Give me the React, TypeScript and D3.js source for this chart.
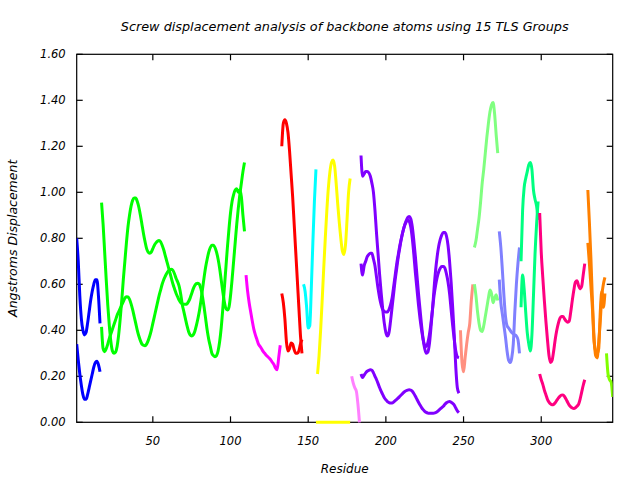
import React from "react";
import * as d3 from "d3";

const W = 640;
const H = 480;
const PLOT = { left: 76.7, right: 612.7, top: 54.3, bottom: 422.3 };

const titleText = "Screw displacement analysis of backbone atoms using 15 TLS Groups";
const xLabel = "Residue";
const yLabel = "Angstroms Displacement";
const xDomain = [1, 346];
const yDomain = [0, 1.6];
const xTicks = [50, 100, 150, 200, 250, 300];
const yTicks = [0, 0.2, 0.4, 0.6, 0.8, 1.0, 1.2, 1.4, 1.6];

// Group 1 (blue), residues 1-16
const blueStart = 1;
const blueA = [0.80, 0.70, 0.55, 0.45, 0.40, 0.38, 0.39, 0.43, 0.48, 0.53, 0.57, 0.60, 0.62, 0.62, 0.55, 0.43];
const blueB = [0.34, 0.27, 0.21, 0.16, 0.12, 0.10, 0.10, 0.12, 0.15, 0.18, 0.21, 0.24, 0.26, 0.265, 0.25, 0.22];

// Group 2 (green), residues 17-109
const greenStart = 17;
const greenA = [
  0.955, 0.86, 0.74, 0.62, 0.51, 0.42, 0.35, 0.31, 0.30, 0.305,
  0.33, 0.38, 0.45, 0.53, 0.62, 0.70, 0.78, 0.85, 0.90, 0.94,
  0.965, 0.975, 0.975, 0.96, 0.935, 0.90, 0.86, 0.82, 0.785, 0.755,
  0.74, 0.735, 0.74, 0.755, 0.77, 0.78, 0.787, 0.79, 0.785, 0.77,
  0.75, 0.725, 0.70, 0.675, 0.65, 0.625, 0.60, 0.58, 0.56, 0.545,
  0.53, 0.52, 0.515, 0.513, 0.513, 0.515, 0.525, 0.54, 0.56, 0.58,
  0.595, 0.603, 0.605, 0.60, 0.58, 0.545, 0.50, 0.45, 0.40, 0.36,
  0.33, 0.30, 0.29, 0.285, 0.29, 0.31, 0.35, 0.41, 0.49, 0.58,
  0.67, 0.76, 0.84, 0.91, 0.96, 0.99, 1.01, 1.015, 1.0, 1.01,
  0.98, 0.90, 0.83,
];
const greenB = [
  0.415, 0.32, 0.307, 0.32, 0.34, 0.365, 0.385, 0.405, 0.425, 0.445,
  0.465, 0.48, 0.495, 0.51, 0.525, 0.54, 0.546, 0.545, 0.535, 0.515,
  0.49, 0.46, 0.43, 0.40, 0.375, 0.355, 0.34, 0.335, 0.333, 0.34,
  0.355, 0.375, 0.40, 0.43, 0.46, 0.49, 0.52, 0.55, 0.575, 0.60,
  0.62, 0.635, 0.648, 0.658, 0.664, 0.665, 0.66, 0.645, 0.625, 0.61,
  0.59, 0.555, 0.51, 0.48, 0.45, 0.42, 0.395, 0.38, 0.375, 0.38,
  0.395, 0.42, 0.45, 0.485, 0.53, 0.58, 0.63, 0.675, 0.71, 0.74,
  0.76, 0.77, 0.77, 0.76, 0.74, 0.71, 0.67, 0.62, 0.57, 0.525,
  0.495, 0.488, 0.50, 0.55, 0.62, 0.70, 0.78, 0.86, 0.93, 0.99,
  1.04, 1.09, 1.13,
];

// Group 3 (magenta), residues 110-132
const magentaStart = 110;
const magentaA = [0.64, 0.57, 0.52, 0.48, 0.44, 0.405, 0.38, 0.36, 0.34, 0.33, 0.32, 0.308, 0.30, 0.292, 0.285, 0.278, 0.27, 0.26, 0.25, 0.235, 0.228, 0.28, 0.335];

// Group 4 (red), residues 133-146
const redStart = 133;
const redA = [1.20, 1.30, 1.315, 1.30, 1.26, 1.18, 1.08, 0.98, 0.86, 0.74, 0.62, 0.50, 0.38, 0.30];
const redB = [0.56, 0.52, 0.45, 0.35, 0.31, 0.32, 0.345, 0.34, 0.315, 0.30, 0.30, 0.31, 0.34, 0.36];

// Group 5 (cyan), residues 147-155
const cyanStart = 147;
const cyanA = [0.60, 0.57, 0.50, 0.41, 0.42, 0.58, 0.78, 0.96, 1.10];

// Group 6 (yellow), residues 155-177
const yellowStart = 156;
const yellowA = [0.21, 0.29, 0.40, 0.53, 0.67, 0.80, 0.92, 1.02, 1.09, 1.13, 1.14, 1.115, 1.04, 0.95, 0.87, 0.80, 0.745, 0.73, 0.77, 0.88, 1.00, 1.06];
const yellowZeroStart = 155;
const yellowB = [0, 0, 0, 0, 0, 0, 0, 0, 0, 0, 0, 0, 0, 0, 0, 0, 0, 0, 0, 0, 0, 0, 0];

// Group 7 (pink), residues 178-183
const pinkStart = 178;
const pinkA = [0.20, 0.17, 0.15, 0.135, 0.08, 0.0];

// Group 8 (purple), residues 184-247
const purpleStart = 184;
const purpleA = [
  1.16, 1.07, 1.08, 1.09, 1.09, 1.085, 1.07, 1.04, 1.00, 0.92,
  0.82, 0.73, 0.64, 0.56, 0.49, 0.43, 0.39, 0.375, 0.39, 0.44,
  0.50, 0.56, 0.62, 0.67, 0.72, 0.76, 0.80, 0.83, 0.855, 0.875,
  0.89, 0.895, 0.885, 0.85, 0.79, 0.72, 0.64, 0.56, 0.49, 0.42,
  0.36, 0.32, 0.30, 0.305, 0.34, 0.41, 0.49, 0.58, 0.66, 0.72,
  0.765, 0.795, 0.815, 0.825, 0.825, 0.81, 0.77, 0.70, 0.61, 0.50,
  0.38, 0.24, 0.15, 0.126,
];
const purpleB = [
  0.69, 0.64, 0.68, 0.70, 0.72, 0.73, 0.735, 0.735, 0.71, 0.68,
  0.63, 0.58, 0.54, 0.51, 0.49, 0.482, 0.48, 0.48, 0.49, 0.51,
  0.54, 0.59, 0.64, 0.69, 0.73, 0.77, 0.80, 0.83, 0.855, 0.87,
  0.88, 0.875, 0.85, 0.80, 0.73, 0.65, 0.58, 0.51, 0.45, 0.40,
  0.36, 0.335, 0.33, 0.345, 0.38, 0.43, 0.49, 0.55, 0.595, 0.63,
  0.655, 0.67, 0.677, 0.677, 0.67, 0.645, 0.61, 0.56, 0.49, 0.42,
  0.36, 0.31, 0.285, 0.28,
];
const purpleC = [
  0.21, 0.195, 0.205, 0.215, 0.222, 0.226, 0.228, 0.226, 0.215, 0.20,
  0.185, 0.168, 0.15, 0.134, 0.12, 0.107, 0.098, 0.09, 0.086, 0.084,
  0.084, 0.088, 0.094, 0.10, 0.106, 0.113, 0.12, 0.127, 0.133, 0.137,
  0.14, 0.141, 0.14, 0.135, 0.125, 0.113, 0.10, 0.087, 0.075, 0.064,
  0.055, 0.048, 0.043, 0.04, 0.039, 0.039, 0.039, 0.04, 0.042, 0.046,
  0.052, 0.058, 0.064, 0.07, 0.078, 0.085, 0.089, 0.09, 0.087, 0.082,
  0.075, 0.062, 0.05, 0.042,
];

// Group 9 (salmon), residues 248-256
const salmonStart = 248;
const salmonA = [0.40, 0.26, 0.22, 0.28, 0.34, 0.39, 0.43, 0.53, 0.60];

// Group 10 (light green), residues 257-272
const lightGreenStart = 257;
const lightGreenA = [0.76, 0.79, 0.84, 0.89, 0.96, 1.04, 1.10, 1.17, 1.24, 1.30, 1.35, 1.38, 1.39, 1.34, 1.25, 1.17];
const lightGreenB = [0.60, 0.55, 0.48, 0.43, 0.40, 0.395, 0.42, 0.46, 0.50, 0.54, 0.575, 0.56, 0.52, 0.54, 0.555, 0.53];

// Group 11 (periwinkle), residues 273-286
const periStart = 273;
const periA = [0.83, 0.76, 0.66, 0.55, 0.46, 0.42, 0.41, 0.40, 0.39, 0.385, 0.38, 0.375, 0.36, 0.30];
const periB = [0.62, 0.52, 0.47, 0.42, 0.37, 0.31, 0.27, 0.26, 0.28, 0.34, 0.48, 0.60, 0.69, 0.76];

// Group 12 (spring green), residues 287-298
const springStart = 287;
const springA = [0.70, 0.92, 1.02, 1.06, 1.09, 1.12, 1.13, 1.10, 1.01, 0.97, 0.94, 0.88];
const springB = [0.50, 0.64, 0.58, 0.48, 0.39, 0.34, 0.31, 0.38, 0.55, 0.73, 0.86, 0.96];

// Group 13 (deep pink), residues 299-328
const deepPinkStart = 299;
const deepPinkA = [
  0.91, 0.74, 0.63, 0.53, 0.44, 0.36, 0.29, 0.26, 0.27, 0.31,
  0.36, 0.40, 0.43, 0.452, 0.46, 0.46, 0.45, 0.44, 0.435, 0.44,
  0.48, 0.53, 0.575, 0.61, 0.615, 0.595, 0.58, 0.59, 0.64, 0.69,
];
const deepPinkB = [
  0.21, 0.185, 0.165, 0.14, 0.12, 0.10, 0.088, 0.08, 0.076, 0.078,
  0.085, 0.095, 0.105, 0.113, 0.118, 0.119, 0.112, 0.10, 0.087, 0.075,
  0.067, 0.062, 0.06, 0.063, 0.07, 0.078, 0.10, 0.13, 0.16, 0.185,
];

// Group 14 (orange), residues 330-341
const orangeStart = 330;
const orangeA = [1.01, 0.87, 0.71, 0.52, 0.37, 0.29, 0.28, 0.35, 0.44, 0.55, 0.60, 0.63];
const orangeB = [0.78, 0.69, 0.59, 0.49, 0.35, 0.31, 0.30, 0.32, 0.48, 0.57, 0.50, 0.56];

// Group 15 (yellow-green), residues 342-346
const limeStart = 342;
const limeA = [0.30, 0.21, 0.185, 0.175, 0.11];

type Series = { start: number; values: number[]; color: string };

const seriesList: Series[] = [
  { start: blueStart, values: blueA, color: "#0000ff" },
  { start: blueStart, values: blueB, color: "#0000ff" },
  { start: greenStart, values: greenA, color: "#00ff00" },
  { start: greenStart, values: greenB, color: "#00ff00" },
  { start: magentaStart, values: magentaA, color: "#ff00ff" },
  { start: redStart, values: redA, color: "#ff0000" },
  { start: redStart, values: redB, color: "#ff0000" },
  { start: cyanStart, values: cyanA, color: "#00ffff" },
  { start: yellowStart, values: yellowA, color: "#ffff00" },
  { start: yellowZeroStart, values: yellowB, color: "#ffff00" },
  { start: pinkStart, values: pinkA, color: "#ff80ff" },
  { start: purpleStart, values: purpleA, color: "#8000ff" },
  { start: purpleStart, values: purpleB, color: "#8000ff" },
  { start: purpleStart, values: purpleC, color: "#8000ff" },
  { start: salmonStart, values: salmonA, color: "#ff9080" },
  { start: lightGreenStart, values: lightGreenA, color: "#80ff80" },
  { start: lightGreenStart, values: lightGreenB, color: "#80ff80" },
  { start: periStart, values: periA, color: "#8080ff" },
  { start: periStart, values: periB, color: "#8080ff" },
  { start: springStart, values: springA, color: "#00ff80" },
  { start: springStart, values: springB, color: "#00ff80" },
  { start: deepPinkStart, values: deepPinkA, color: "#ff0080" },
  { start: deepPinkStart, values: deepPinkB, color: "#ff0080" },
  { start: orangeStart, values: orangeA, color: "#ff8000" },
  { start: orangeStart, values: orangeB, color: "#ff8000" },
  { start: limeStart, values: limeA, color: "#80ff00" },
];

const FONT = "'DejaVu Sans', Verdana, sans-serif";

export default function App() {
  const x = d3.scaleLinear().domain(xDomain).range([PLOT.left, PLOT.right]);
  const y = d3.scaleLinear().domain(yDomain).range([PLOT.bottom, PLOT.top]);
  const line = d3
    .line<[number, number]>()
    .x((d) => x(d[0]))
    .y((d) => y(d[1]))
    .curve(d3.curveMonotoneX);
  const tick = 6;
  const cx = (PLOT.left + PLOT.right) / 2;
  const cy = (PLOT.top + PLOT.bottom) / 2;

  return (
    <svg
      width={W}
      height={H}
      viewBox={`0 0 ${W} ${H}`}
      style={{ position: "absolute", left: 0, top: 0, background: "#ffffff" }}
    >
      <defs>
        <clipPath id="plotClip">
          <rect x={PLOT.left} y={PLOT.top - 2} width={PLOT.right - PLOT.left} height={PLOT.bottom - PLOT.top + 4} />
        </clipPath>
      </defs>
      <rect x={0} y={0} width={W} height={H} fill="#ffffff" />
      <text
        x={cx}
        y={31}
        textAnchor="middle"
        fontFamily={FONT}
        fontStyle="italic"
        fontSize={12.8}
        fill="#000"
      >
        {titleText}
      </text>
      <rect
        x={PLOT.left}
        y={PLOT.top}
        width={PLOT.right - PLOT.left}
        height={PLOT.bottom - PLOT.top}
        fill="none"
        stroke="#000"
        strokeWidth={1.2}
      />
      {yTicks.map((t) => (
        <g key={"y" + t}>
          <line x1={PLOT.left} x2={PLOT.left + tick} y1={y(t)} y2={y(t)} stroke="#000" strokeWidth={1.2} />
          <line x1={PLOT.right} x2={PLOT.right - tick} y1={y(t)} y2={y(t)} stroke="#000" strokeWidth={1.2} />
          <text
            x={PLOT.left - 11}
            y={y(t) + 4}
            textAnchor="end"
            fontFamily={FONT}
            fontStyle="italic"
            fontSize={11.5}
            fill="#000"
          >
            {t.toFixed(2)}
          </text>
        </g>
      ))}
      {xTicks.map((t) => (
        <g key={"x" + t}>
          <line x1={x(t)} x2={x(t)} y1={PLOT.bottom} y2={PLOT.bottom - tick} stroke="#000" strokeWidth={1.2} />
          <line x1={x(t)} x2={x(t)} y1={PLOT.top} y2={PLOT.top + tick} stroke="#000" strokeWidth={1.2} />
          <text
            x={x(t)}
            y={445}
            textAnchor="middle"
            fontFamily={FONT}
            fontStyle="italic"
            fontSize={11.5}
            fill="#000"
          >
            {t}
          </text>
        </g>
      ))}
      <text
        x={cx}
        y={473}
        textAnchor="middle"
        fontFamily={FONT}
        fontStyle="italic"
        fontSize={12}
        fill="#000"
      >
        {xLabel}
      </text>
      <text
        transform={`translate(16.5, ${cy}) rotate(-90)`}
        textAnchor="middle"
        fontFamily={FONT}
        fontStyle="italic"
        fontSize={12.5}
        fill="#000"
      >
        {yLabel}
      </text>
      <g clipPath="url(#plotClip)">
        {seriesList.map((s, i) => {
          const pts: [number, number][] = s.values.map((v, k) => [s.start + k, v]);
          return (
            <path
              key={i}
              d={line(pts) || ""}
              fill="none"
              stroke={s.color}
              strokeWidth={3}
              strokeLinejoin="round"
              strokeLinecap="butt"
            />
          );
        })}
      </g>
    </svg>
  );
}
